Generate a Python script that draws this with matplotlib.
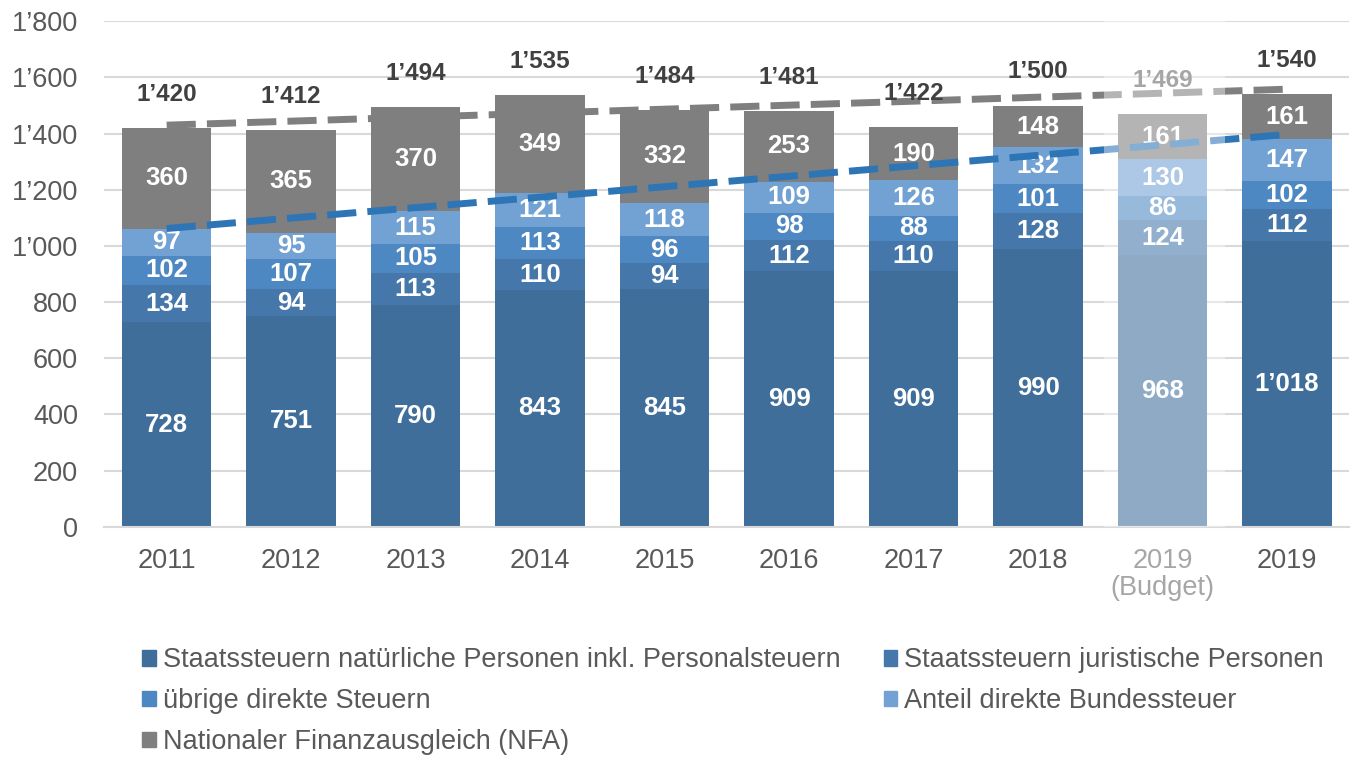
import numpy as np
import matplotlib.pyplot as plt
from matplotlib.patches import Patch

years = ["2011", "2012", "2013", "2014", "2015", "2016", "2017", "2018", "2019\n(Budget)", "2019"]
natuerliche = [728, 751, 790, 843, 845, 909, 909, 990, 968, 1018]
juristische = [134, 94, 113, 110, 94, 112, 110, 128, 124, 112]
uebrige = [102, 107, 105, 113, 96, 98, 88, 101, 86, 102]
bundessteuer = [97, 95, 115, 121, 118, 109, 126, 132, 130, 147]
nfa = [360, 365, 370, 349, 332, 253, 190, 148, 161, 161]
totals = [1420, 1412, 1494, 1535, 1484, 1481, 1422, 1500, 1469, 1540]

# dashed trend lines, start / end value
trend_x = [0, 9]
trend_total = [1430, 1558]
trend_steuern = [1062, 1397]

series = [
    ("Staatssteuern natürliche Personen inkl. Personalsteuern", natuerliche, "#3F6E9A"),
    ("Staatssteuern juristische Personen", juristische, "#4577AB"),
    ("übrige direkte Steuern", uebrige, "#4D88C3"),
    ("Anteil direkte Bundessteuer", bundessteuer, "#72A2D4"),
    ("Nationaler Finanzausgleich (NFA)", nfa, "#7F7F7F"),
]
budget_idx = 8


def fmt(v):
    return f"{v:,}".replace(",", "\u2019")


plt.rcParams["font.family"] = ["Liberation Sans", "DejaVu Sans"]

fig = plt.figure(figsize=(13.56, 7.58), dpi=100)
ax = fig.add_axes([0.077, 0.305, 0.918, 0.667])

x = np.arange(len(years))
bottom = np.zeros(len(years))
for name, vals, col in series:
    vals = np.array(vals)
    ax.bar(x, vals, 0.72, bottom=bottom, color=col, zorder=2, label=name)
    for i in range(len(x)):
        ax.text(x[i], bottom[i] + vals[i] / 2, fmt(vals[i]), ha="center", va="center",
                color="white", fontsize=18.5, fontweight="bold", zorder=3)
    bottom += vals

for i in range(len(x)):
    c = "#A6A6A6" if i == budget_idx else "#404040"
    ax.text(x[i], totals[i] + 120, fmt(totals[i]), ha="center", va="center",
            color=c, fontsize=17.5, fontweight="bold", zorder=6)

ax.plot(trend_x, trend_total, color="#7F7F7F", lw=5, dashes=(4.2, 1.6),
        dash_capstyle="butt", zorder=4)
ax.plot(trend_x, trend_steuern, color="#2E75B6", lw=5, dashes=(4.2, 1.6),
        dash_capstyle="butt", zorder=4)

# budget column is shown faded
ax.axvspan(budget_idx - 0.47, budget_idx + 0.5, color="white", alpha=0.42, lw=0, zorder=5)

ax.set_xlim(-0.5, 9.5)
ax.set_ylim(0, 1800)
ax.set_yticks(range(0, 1801, 200))
ax.set_yticklabels([fmt(v) for v in range(0, 1801, 200)])
ax.set_xticks(x)
ax.set_xticklabels(years, linespacing=1.05)
ax.tick_params(axis="both", length=0, labelsize=19.5, colors="#595959")
ax.tick_params(axis="y", pad=19)
ax.tick_params(axis="x", pad=15)
ax.get_xticklabels()[budget_idx].set_color("#A6A6A6")
ax.grid(axis="y", color="#D9D9D9", lw=1.5, zorder=0)
ax.set_axisbelow(True)
for s in ["top", "right", "left"]:
    ax.spines[s].set_visible(False)
ax.spines["bottom"].set_color("#D9D9D9")
ax.spines["bottom"].set_linewidth(1.5)

handles = [Patch(color=c) for _, _, c in series]
labels = [n for n, _, _ in series]
order = [0, 2, 4, 1, 3]
fig.legend([handles[i] for i in order], [labels[i] for i in order],
           loc="upper left", bbox_to_anchor=(0.087, 0.178), ncol=2,
           frameon=False, fontsize=19.5, labelcolor="#595959",
           handlelength=0.5, handleheight=0.5, handletextpad=0.25,
           columnspacing=1.6, labelspacing=0.55)

fig.savefig("out.png", dpi=100)
